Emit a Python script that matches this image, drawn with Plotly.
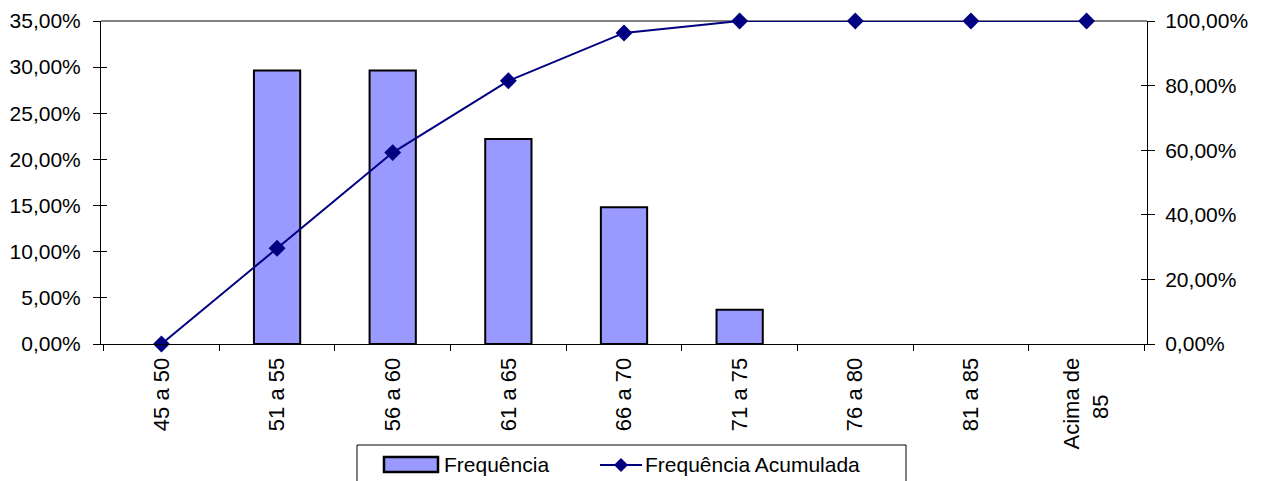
import plotly.graph_objects as go

categories = ["45 a 50", "51 a 55", "56 a 60", "61 a 65", "66 a 70", "71 a 75", "76 a 80", "81 a 85", "Acima de 85"]
tick_labels = ["45 a 50", "51 a 55", "56 a 60", "61 a 65", "66 a 70", "71 a 75", "76 a 80", "81 a 85",
               "Acima de<br>85" + "\u00a0" * 6]
frequencia = [0.0, 0.2963, 0.2963, 0.2222, 0.1481, 0.0370, 0.0, 0.0, 0.0]
acumulada = [0.0, 0.2963, 0.5926, 0.8148, 0.9630, 1.0, 1.0, 1.0, 1.0]

FONT = "Liberation Sans, Arial, sans-serif"
NAVY = "#000080"
BARC = "#9999FF"

# page body has an 8px margin; figure size compensates
OFF = 8
FW, FH = 1261 - OFF, 481 - OFF
# plot area in screen pixels
L, R, T, B = 101, 1147, 21, 344
W, H = R - L, B - T
def px(x):
    return (x - L) / W
def py(y):
    return (B - y) / H

fig = go.Figure()
fig.add_trace(go.Bar(
    x=categories, y=frequencia, name="Frequência",
    marker=dict(color=BARC, line=dict(color="black", width=[0 if v == 0 else 2 for v in frequencia])),
    yaxis="y",
))
fig.add_trace(go.Scatter(
    x=categories, y=acumulada, name="Frequência Acumulada",
    mode="lines+markers",
    line=dict(color=NAVY, width=2),
    marker=dict(symbol="diamond", size=13, color=NAVY),
    yaxis="y2", cliponaxis=False,
))
# invisible helper traces so the inside-tick axes are drawn
fig.add_trace(go.Scatter(x=[categories[0]], y=[None], yaxis="y3", showlegend=False, hoverinfo="skip"))
fig.add_trace(go.Scatter(x=[categories[0]], y=[None], yaxis="y4", showlegend=False, hoverinfo="skip"))

shapes = [
    dict(type="line", xref="paper", yref="paper", x0=0, x1=1, y0=1, y1=1,
         line=dict(color="#808080", width=2), layer="below"),
    # legend box
    dict(type="rect", xref="paper", yref="paper", x0=px(357), x1=px(906), y0=py(445), y1=py(495),
         line=dict(color="black", width=1), fillcolor="white"),
    # bar legend symbol
    dict(type="rect", xref="paper", yref="paper", x0=px(384), x1=px(438), y0=py(457), y1=py(472),
         line=dict(color="black", width=2.5), fillcolor=BARC),
    # line legend symbol
    dict(type="line", xref="paper", yref="paper", x0=px(600), x1=px(642), y0=py(465), y1=py(465),
         line=dict(color=NAVY, width=2)),
]
cx, cy, d = 621, 465, 7
shapes.append(dict(
    type="path", xref="paper", yref="paper",
    path=f"M {px(cx)},{py(cy-d)} L {px(cx+d)},{py(cy)} L {px(cx)},{py(cy+d)} L {px(cx-d)},{py(cy)} Z",
    fillcolor=NAVY, line=dict(color=NAVY, width=0),
))

annotations = [
    dict(text="Frequência", xref="paper", yref="paper", x=px(442), y=py(465),
         xanchor="left", yanchor="middle", showarrow=False, font=dict(family=FONT, size=21)),
    dict(text="Frequência Acumulada", xref="paper", yref="paper", x=px(643), y=py(465),
         xanchor="left", yanchor="middle", showarrow=False, font=dict(family=FONT, size=21)),
]

fig.update_layout(
    width=FW, height=FH,
    margin=dict(l=L - OFF, r=FW - (R - OFF), t=T - OFF, b=FH - (B - OFF), autoexpand=False),
    paper_bgcolor="white", plot_bgcolor="white",
    separators=",.",
    font=dict(family=FONT, size=20, color="black"),
    bargap=0.6,
    showlegend=False,
    xaxis=dict(
        type="category", tickangle=-90, tickson="boundaries",
        tickmode="array", tickvals=categories, ticktext=tick_labels,
        ticks="outside", ticklen=6, tickcolor="black",
        showline=True, linecolor="black", linewidth=1,
        showgrid=False, automargin=False, ticklabelstandoff=4,
        tickfont=dict(family=FONT, size=22),
    ),
    yaxis=dict(
        range=[0, 0.35], dtick=0.05, tickformat=".2%",
        ticks="outside", ticklen=7, tickcolor="black",
        showline=True, linecolor="black", linewidth=1,
        showgrid=False, zeroline=False, automargin=False, ticklabelstandoff=8,
        tickfont=dict(family=FONT, size=21),
    ),
    yaxis2=dict(
        range=[0, 1], dtick=0.2, tickformat=".2%",
        overlaying="y", side="right",
        ticks="outside", ticklen=7, tickcolor="black",
        showline=True, linecolor="black", linewidth=1,
        showgrid=False, zeroline=False, automargin=False, ticklabelstandoff=6,
        tickfont=dict(family=FONT, size=21),
    ),
    yaxis3=dict(
        range=[0, 0.35], dtick=0.05, overlaying="y", side="left",
        ticks="inside", ticklen=6, tickcolor="black", showticklabels=False,
        showline=False, showgrid=False, zeroline=False, automargin=False,
    ),
    yaxis4=dict(
        range=[0, 1], dtick=0.2, overlaying="y", side="right",
        ticks="inside", ticklen=6, tickcolor="black", showticklabels=False,
        showline=False, showgrid=False, zeroline=False, automargin=False,
    ),
    shapes=shapes,
    annotations=annotations,
)

fig.write_html("out.html")
